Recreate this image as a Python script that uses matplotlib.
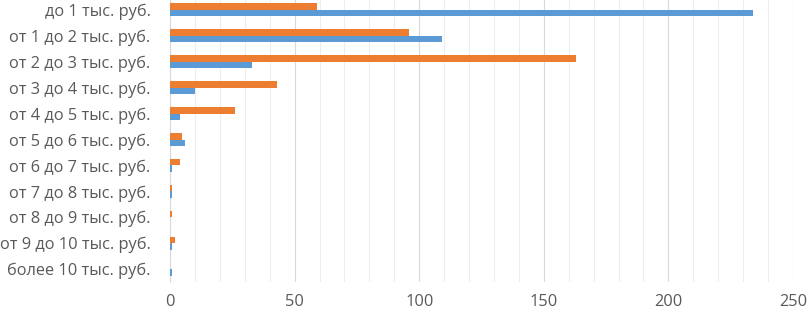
import numpy as np
import matplotlib.pyplot as plt

categories = ['до 1 тыс. руб.', 'от 1 до 2 тыс. руб.', 'от 2 до 3 тыс. руб.',
              'от 3 до 4 тыс. руб.', 'от 4 до 5 тыс. руб.', 'от 5 до 6 тыс. руб.',
              'от 6 до 7 тыс. руб.', 'от 7 до 8 тыс. руб.', 'от 8 до 9 тыс. руб.',
              'от 9 до 10 тыс. руб.', 'более 10 тыс. руб.']
blue_vals = [234, 109, 33, 10, 4, 6, 1, 1, 0, 1, 1]
orange_vals = [59, 96, 163, 43, 26, 5, 4, 1, 1, 2, 0]
x_ticks = [0, 50, 100, 150, 200, 250]

fig = plt.figure(figsize=(8.08, 3.11), dpi=100)
ax = fig.add_axes([170 / 808, 1 - 282 / 311, 623 / 808, 285 / 311])

y = np.arange(len(categories))
h = 0.25
ax.barh(y - h / 2, orange_vals, height=h, color='#ED7D31', zorder=3)
ax.barh(y + h / 2, blue_vals, height=h, color='#5B9BD5', zorder=3)

ax.set_xlim(0, 250)
ax.set_ylim(len(categories) - 0.5, -0.5)
ax.set_yticks(y)
ax.set_yticklabels(categories)
ax.set_xticks(x_ticks)
ax.set_xticks(np.arange(0, 251, 10), minor=True)
ax.grid(axis='x', which='minor', color='#EDEDED', lw=0.8, zorder=0)
ax.grid(axis='x', which='major', color='#D9D9D9', lw=0.8, zorder=0)
for s in ['top', 'right', 'bottom']:
    ax.spines[s].set_visible(False)
ax.spines['left'].set_color('#D9D9D9')
ax.tick_params(axis='both', which='both', length=0, colors='#595959', labelsize=11.8)
ax.tick_params(axis='y', pad=14)
ax.tick_params(axis='x', pad=9)
for t in ax.get_xticklabels() + ax.get_yticklabels():
    t.set_fontfamily('Open Sans')

fig.savefig('out.png', dpi=100)
